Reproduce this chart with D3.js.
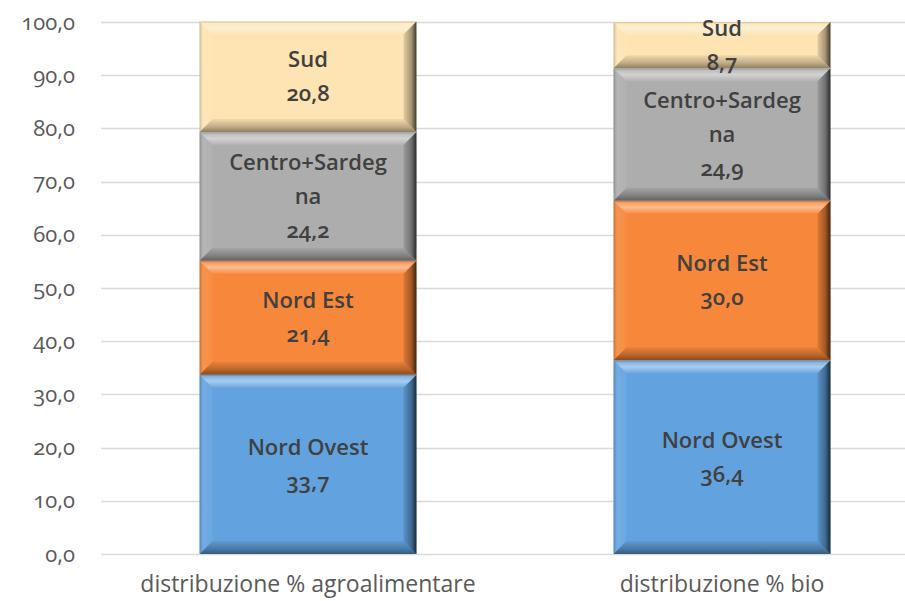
<!DOCTYPE html>
<html>
<head>
<meta charset="utf-8">
<script src="https://cdn.jsdelivr.net/npm/d3@7"></script>
<style>
  html, body { margin: 0; padding: 0; background: #fff; }
  svg { display: block; font-family: 'Open Sans', sans-serif; font-variant-numeric: oldstyle-nums; }
</style>
</head>
<body>
<div id="chart"></div>
<script>
const categories = ['distribuzione % agroalimentare', 'distribuzione % bio']
const series = ['Nord Ovest', 'Nord Est', 'Centro+Sardegna', 'Sud']
const seriesLabels = [['Nord Ovest'], ['Nord Est'], ['Centro+Sardeg', 'na'], ['Sud']]
const nordOvest = [33.7, 36.4]
const nordEst = [21.4, 30.0]
const centroSardegna = [24.2, 24.9]
const sud = [20.8, 8.7]
const yTicks = [0, 10, 20, 30, 40, 50, 60, 70, 80, 90, 100]
const colors = ['#62a3df', '#f7873a', '#adadad', '#fee4b2']

const width = 905
const height = 601
const values = [nordOvest, nordEst, centroSardegna, sud]

const svg = d3.select('#chart').append('svg')
  .attr('width', width)
  .attr('height', height)

const x = d3.scaleBand()
  .domain(categories)
  .range([101, 929])
  .paddingInner(0.476)
  .paddingOuter(0.238)

const y = d3.scaleLinear()
  .domain([0, 100])
  .range([554, 22])

const fmt = v => d3.format('.1f')(v).replace('.', ',')

// gridlines
svg.append('g')
  .selectAll('line')
  .data(yTicks)
  .join('line')
  .attr('x1', 101)
  .attr('x2', width)
  .attr('y1', d => Math.round(y(d)) + 0.5)
  .attr('y2', d => Math.round(y(d)) + 0.5)
  .attr('stroke', '#d9d9d9')
  .attr('stroke-width', 1.3)

// y axis labels
const yAxis = svg.append('g')
  .attr('transform', 'translate(101,0)')
  .call(d3.axisLeft(y).tickValues(yTicks).tickFormat(fmt).tickSize(0).tickPadding(26))
yAxis.select('.domain').remove()
yAxis.selectAll('text')
  .attr('fill', '#595959')
  .style('font-size', '22px')
  .style('font-family', "'Open Sans', sans-serif")

// x axis labels
const xAxis = svg.append('g')
  .attr('transform', 'translate(0,554)')
  .call(d3.axisBottom(x).tickSize(0).tickPadding(22))
xAxis.select('.domain').remove()
xAxis.selectAll('text')
  .attr('fill', '#595959')
  .style('font-size', '23px')
  .style('font-family', "'Open Sans', sans-serif")

// gradients for bevel
const defs = svg.append('defs')
function grad(id, x1, y1, x2, y2, stops) {
  const g = defs.append('linearGradient').attr('id', id)
    .attr('x1', x1).attr('y1', y1).attr('x2', x2).attr('y2', y2)
  stops.forEach(s => {
    g.append('stop').attr('offset', s[0]).attr('stop-color', s[1]).attr('stop-opacity', s[2])
  })
}
grad('bevTop', 0, 0, 0, 1, [[0, '#000', 0.15], [0.15, '#fff', 0.2], [0.5, '#fff', 0.45], [1, '#fff', 0.05]])
grad('bevLeft', 0, 0, 1, 0, [[0, '#000', 0.2], [0.3, '#fff', 0.1], [1, '#fff', 0.05]])
grad('bevRight', 0, 0, 1, 0, [[0, '#000', 0.1], [0.6, '#000', 0.35], [1, '#000', 0.75]])
grad('bevBottom', 0, 0, 0, 1, [[0, '#000', 0.05], [0.6, '#000', 0.25], [1, '#000', 0.45]])

const stack = []
categories.forEach((c, ci) => {
  let base = 0
  values.forEach((vals, si) => {
    stack.push({ cat: c, si: si, y0: base, y1: base + vals[ci], v: vals[ci] })
    base += vals[ci]
  })
})

const bars = svg.append('g')
  .selectAll('g')
  .data(stack)
  .join('g')

bars.each(function (d) {
  const g = d3.select(this)
  const x0 = x(d.cat)
  const x1 = x0 + x.bandwidth()
  const top = y(d.y1)
  const bot = y(d.y0)
  const b = Math.min(13, (bot - top) / 2)
  g.append('rect')
    .attr('x', x0)
    .attr('y', top)
    .attr('width', x1 - x0)
    .attr('height', bot - top)
    .attr('fill', colors[d.si])
  const poly = (pts, fill) => g.append('polygon')
    .attr('points', pts.map(p => p.join(',')).join(' '))
    .attr('fill', fill)
  poly([[x0, top], [x1, top], [x1 - b, top + b], [x0 + b, top + b]], 'url(#bevTop)')
  poly([[x0, top], [x0 + b, top + b], [x0 + b, bot - b], [x0, bot]], 'url(#bevLeft)')
  poly([[x1, top], [x1, bot], [x1 - b, bot - b], [x1 - b, top + b]], 'url(#bevRight)')
  poly([[x0, bot], [x1, bot], [x1 - b, bot - b], [x0 + b, bot - b]], 'url(#bevBottom)')
})

// labels drawn after all bars so they sit on top
bars.each(function (d) {
  const x0 = x(d.cat)
  const top = y(d.y1)
  const bot = y(d.y0)
  const lines = seriesLabels[d.si].concat([fmt(d.v)])
  const lh = 34
  const cy = (top + bot) / 2 - (lines.length - 1) * lh / 2
  const t = svg.append('text')
    .attr('text-anchor', 'middle')
    .attr('fill', '#404040')
    .style('font-size', '22px')
    .style('font-weight', '600')
  lines.forEach((l, i) => {
    t.append('tspan')
      .attr('x', x0 + x.bandwidth() / 2)
      .attr('y', cy + i * lh)
      .attr('dy', '0.35em')
      .text(l)
  })
})
</script>
</body>
</html>
